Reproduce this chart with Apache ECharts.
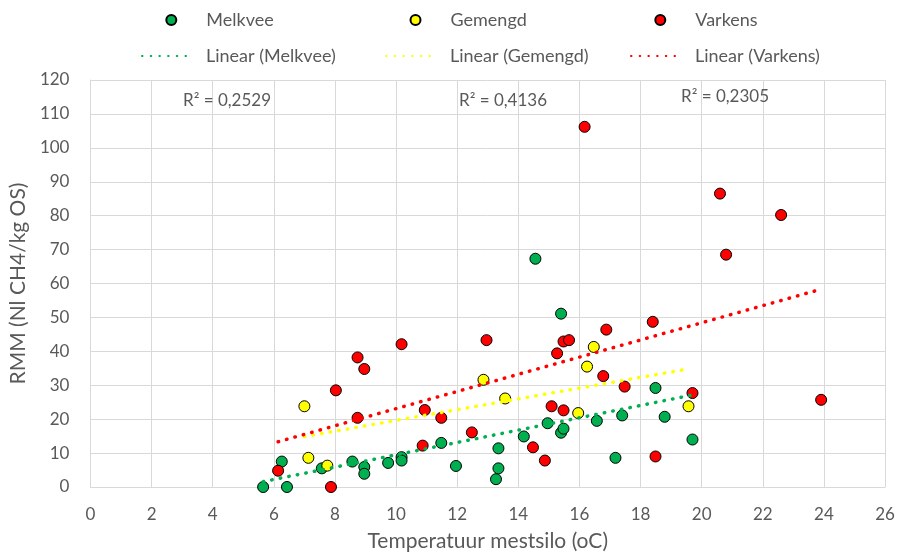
<!DOCTYPE html>
<html>
<head>
<meta charset="utf-8">
<script src="https://cdn.jsdelivr.net/npm/echarts@6/dist/echarts.min.js"></script>
<style>
html,body{margin:0;padding:0;background:#fff;}
#chart{width:899px;height:557px;}
</style>
</head>
<body>
<div id="chart"></div>
<script>
// ---- data ----
const melkveeX = [5.65, 6.43, 6.26, 7.57, 8.57, 8.96, 8.96, 9.74, 10.18, 10.18, 11.48, 11.96, 13.27, 13.35, 13.35, 14.18, 14.56, 14.96, 15.4, 15.48, 15.4, 16.57, 17.18, 17.4, 18.49, 18.79, 19.7];
const melkveeY = [0, 0, 7.5, 5.5, 7.5, 5.9, 3.9, 7.1, 8.8, 7.8, 13.0, 6.2, 2.3, 5.5, 11.4, 14.9, 67.3, 18.8, 16.0, 17.2, 51.1, 19.5, 8.6, 21.1, 29.2, 20.7, 14.0];

const gemengdX = [7.0, 7.13, 7.75, 12.86, 13.57, 15.96, 16.25, 16.47, 19.57];
const gemengdY = [23.8, 8.6, 6.3, 31.6, 26.1, 21.8, 35.5, 41.3, 23.8];

const varkensX = [6.14, 7.87, 8.03, 8.74, 8.74, 8.96, 10.18, 10.87, 10.94, 11.48, 12.48, 12.96, 14.48, 14.87, 15.09, 15.27, 15.48, 15.66, 15.48, 16.17, 16.78, 16.88, 17.48, 18.4, 18.49, 19.7, 20.6, 20.8, 22.6, 23.91];
const varkensY = [4.8, 0, 28.5, 38.2, 20.4, 34.8, 42.1, 12.2, 22.7, 20.4, 16.1, 43.3, 11.7, 7.8, 23.8, 39.4, 42.9, 43.3, 22.6, 106.2, 32.7, 46.4, 29.6, 48.7, 9.0, 27.7, 86.5, 68.5, 80.2, 25.7];

const seriesNames = ['Melkvee', 'Gemengd', 'Varkens'];
const trendNames = ['Linear (Melkvee)', 'Linear (Gemengd)', 'Linear (Varkens)'];
const r2Labels = ['R² = 0,2529', 'R² = 0,4136', 'R² = 0,2305'];
const xTicks = {min: 0, max: 26, interval: 2};
const yTicks = {min: 0, max: 120, interval: 10};

// ---- helpers ----
function pairs(xs, ys){ return xs.map((x,i)=>[x, ys[i]]); }
function trend(xs, ys){
  const n = xs.length;
  const mx = xs.reduce((a,b)=>a+b,0)/n, my = ys.reduce((a,b)=>a+b,0)/n;
  let sxy=0, sxx=0;
  for(let i=0;i<n;i++){ sxy += (xs[i]-mx)*(ys[i]-my); sxx += (xs[i]-mx)*(xs[i]-mx); }
  const b = sxy/sxx, a = my - b*mx;
  const x0 = Math.min(...xs), x1 = Math.max(...xs);
  return [[x0, a+b*x0],[x1, a+b*x1]];
}

const colors = ['#00B050', '#FFFF00', '#FF0000'];
const FONT = 'Lato, "Open Sans", sans-serif';
const TXT = '#595959';

const dataSets = [pairs(melkveeX, melkveeY), pairs(gemengdX, gemengdY), pairs(varkensX, varkensY)];
const trendSets = [trend(melkveeX, melkveeY), trend(gemengdX, gemengdY), trend(varkensX, varkensY)];

const series = [];
dataSets.forEach((d, i) => {
  series.push({
    name: seriesNames[i], type: 'scatter', data: d, symbol: 'circle', symbolSize: 11,
    itemStyle: {color: colors[i], borderColor: '#000', borderWidth: 1, opacity: 1},
    z: 2
  });
});
trendSets.forEach((d, i) => {
  series.push({
    name: trendNames[i], type: 'line', data: d, symbol: 'none', showSymbol: false,
    lineStyle: {color: colors[i], width: 3.5, type: [0.5, 8.2], cap: 'round'},
    itemStyle: {color: colors[i]},
    z: 3, silent: true, animation: false
  });
});

const circleCenters = [170.3, 414.5, 659.3];
const lineLefts = [141, 385, 630];
const legends = [];
seriesNames.forEach((n, i) => {
  legends.push({
    data: [n], left: circleCenters[i] - 5, top: 11, padding: 0, itemWidth: 10, itemHeight: 10,
    textStyle: {color: TXT, fontSize: 18, fontFamily: FONT, padding: [0,0,0,25]},
    selectedMode: false
  });
});
trendNames.forEach((n, i) => {
  legends.push({
    data: [n], left: lineLefts[i], top: 47, padding: 0, itemWidth: 52, itemHeight: 10,
    itemStyle: {opacity: 0},
    textStyle: {color: TXT, fontSize: 18, fontFamily: FONT, padding: [0,0,0,7]},
    selectedMode: false
  });
});

const r2Pos = [[183, 101], [459, 101], [681, 97]];

const option = {
  animation: false,
  backgroundColor: '#fff',
  textStyle: {fontFamily: FONT},
  legend: legends,
  grid: {left: 88, right: 14, top: 80, bottom: 67, containLabel: false},
  xAxis: {
    type: 'value', min: xTicks.min, max: xTicks.max, interval: xTicks.interval,
    name: 'Temperatuur mestsilo (oC)', nameLocation: 'middle', nameGap: 44,
    nameTextStyle: {color: TXT, fontSize: 21, fontFamily: FONT},
    axisLine: {show: true, lineStyle: {color: '#d9d9d9', width: 1}},
    axisTick: {show: false},
    axisLabel: {color: TXT, fontSize: 17, fontFamily: FONT, margin: 19},
    splitLine: {show: true, lineStyle: {color: '#d9d9d9', width: 1}}
  },
  yAxis: {
    type: 'value', min: yTicks.min, max: yTicks.max, interval: yTicks.interval,
    name: 'RMM (Nl CH4/kg OS)', nameLocation: 'middle', nameGap: 55,
    nameTextStyle: {color: TXT, fontSize: 21, fontFamily: FONT},
    axisLine: {show: true, lineStyle: {color: '#d9d9d9', width: 1}},
    axisTick: {show: false},
    axisLabel: {color: TXT, fontSize: 17, fontFamily: FONT, margin: 21},
    splitLine: {show: true, lineStyle: {color: '#d9d9d9', width: 1}}
  },
  graphic: r2Labels.map((t, i) => ({
    type: 'text', x: r2Pos[i][0], y: r2Pos[i][1], z: 10,
    style: {text: t, fill: TXT, fontSize: 17, fontFamily: FONT, verticalAlign: 'middle'}
  })),
  series: series
};

const chart = echarts.init(document.getElementById('chart'), null, {renderer: 'canvas'});
chart.setOption(option);
</script>
</body>
</html>
